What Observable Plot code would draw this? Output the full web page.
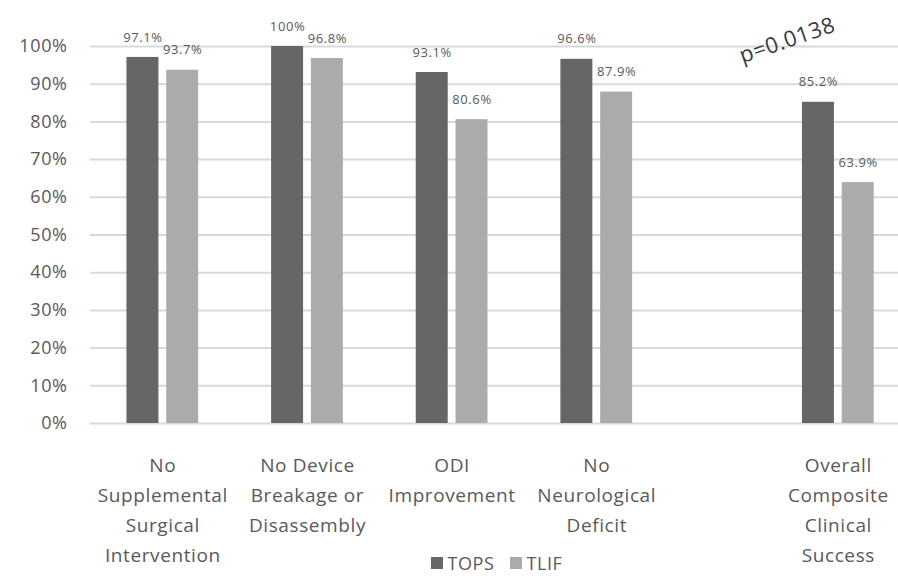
<!DOCTYPE html>
<html>
<head>
<meta charset="utf-8">
<script src="https://cdn.jsdelivr.net/npm/d3@7"></script>
<script src="https://cdn.jsdelivr.net/npm/@observablehq/plot@0.6"></script>
<style>
  html, body { margin: 0; padding: 0; background: #fff; overflow: hidden; }
  #chart svg text { letter-spacing: 0.6px; }
  #legend {
    width: 898px; box-sizing: border-box; padding-left: 96px; margin-top: -4px;
    display: flex; justify-content: center; align-items: center;
    height: 24px; font-family: "Open Sans", sans-serif; font-size: 18px; color: #595959;
    letter-spacing: 0.6px; line-height: 24px;
  }
  #legend .item { display: flex; align-items: center; margin: 0 8px; }
  #legend .sw { width: 12px; height: 12px; margin-right: 4px; }
</style>
</head>
<body>
<div id="chart"></div>
<div id="legend"></div>
<script>
// ---- data ----
const categories = [
  "No\nSupplemental\nSurgical\nIntervention",
  "No Device\nBreakage or\nDisassembly",
  "ODI\nImprovement",
  "No\nNeurological\nDeficit",
  "Overall\nComposite\nClinical\nSuccess"
];
const series = ["TOPS", "TLIF"];
const topsValues = [0.971, 1.0, 0.931, 0.966, 0.852];
const tlifValues = [0.937, 0.968, 0.806, 0.879, 0.639];
const yTicks = [0, 0.1, 0.2, 0.3, 0.4, 0.5, 0.6, 0.7, 0.8, 0.9, 1.0];
const annotation = ["p=0.0138"];
const seriesColors = ["#666666", "#ababab"];

// ---- layout helpers ----
const GAP = 0.67; // extra space before the last category
const catPos = categories.map((c, i) => i + (i >= 4 ? GAP : 0));
const inner = 0.027, outer = 0.248;

const rows = [];
categories.forEach((c, i) => {
  rows.push({cat: c, pos: catPos[i], series: "TOPS", value: topsValues[i]});
  rows.push({cat: c, pos: catPos[i], series: "TLIF", value: tlifValues[i]});
});
const x1 = d => d.series === "TOPS" ? d.pos - outer : d.pos + inner;
const x2 = d => d.series === "TOPS" ? d.pos - inner : d.pos + outer;
const xc = d => (x1(d) + x2(d)) / 2;
const pct = v => `${+(v * 100).toFixed(1)}%`;

const chart = Plot.plot({
  width: 898,
  height: 555,
  marginLeft: 90,
  marginRight: 0,
  marginTop: 46,
  marginBottom: 132,
  style: {fontFamily: "'Open Sans', sans-serif", background: "#fff", overflow: "visible"},
  x: {type: "linear", domain: [-0.5, 4 + GAP + 0.416], axis: null},
  y: {domain: [0, 1], axis: null, label: null},
  color: {domain: series, range: seriesColors},
  marks: [
    Plot.gridY(yTicks, {stroke: "#d9d9d9", strokeOpacity: 1, strokeWidth: 2}),
    Plot.axisY(yTicks, {
      tickSize: 0, tickPadding: 23, fontSize: 18, fill: "#595959", label: null,
      tickFormat: d => `${Math.round(d * 100)}%`
    }),
    Plot.rectY(rows, {x1, x2, y: "value", fill: "series", insetLeft: 0, insetRight: 0}),
    Plot.text(rows, {x: xc, y: "value", text: d => pct(d.value), dy: -20, fontSize: 13, fill: "#595959"}),
    Plot.text(categories, {
      x: (d, i) => catPos[i], y: () => 0, text: d => d,
      lineAnchor: "top", dy: 27, fontSize: 19, lineHeight: 1.58, fill: "#595959"
    }),
    Plot.text(annotation, {
      x: () => catPos[4], y: () => 1, text: d => d,
      rotate: -19, dx: -51, dy: -6, fontSize: 22, fill: "#3a3a3a"
    })
  ]
});
document.getElementById("chart").appendChild(chart);

// legend
const legend = document.getElementById("legend");
series.forEach((s, i) => {
  const item = document.createElement("div");
  item.className = "item";
  const sw = document.createElement("span");
  sw.className = "sw";
  sw.style.background = seriesColors[i];
  const lab = document.createElement("span");
  lab.textContent = s;
  item.appendChild(sw);
  item.appendChild(lab);
  legend.appendChild(item);
});
</script>
</body>
</html>
